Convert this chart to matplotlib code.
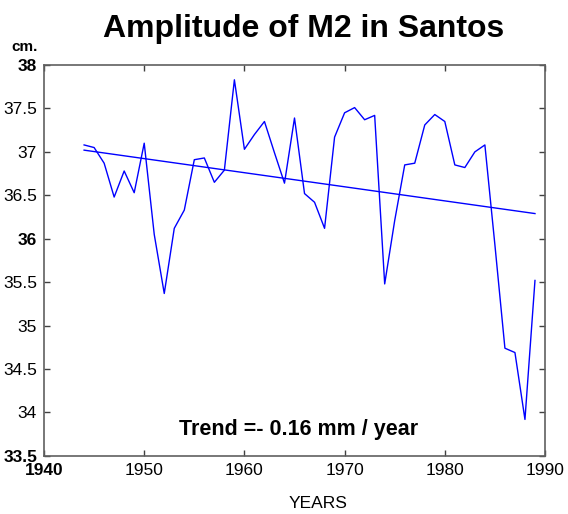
import matplotlib.pyplot as plt

years = list(range(1944, 1990))
amplitude = [37.08, 37.05, 36.87, 36.48, 36.78, 36.53, 37.10, 36.05, 35.37, 36.12,
             36.33, 36.91, 36.93, 36.65, 36.79, 37.83, 37.03, 37.20, 37.35, 36.99,
             36.64, 37.39, 36.52, 36.42, 36.12, 37.17, 37.45, 37.51, 37.37, 37.42,
             35.48, 36.21, 36.85, 36.87, 37.31, 37.43, 37.35, 36.85, 36.82, 37.00,
             37.08, 35.93, 34.74, 34.69, 33.92, 35.52]

trendYears = [1944, 1989]
trendValues = [37.02, 36.29]

xTicks = [1940, 1950, 1960, 1970, 1980, 1990]
yTicks = [33.5, 34, 34.5, 35, 35.5, 36, 36.5, 37, 37.5, 38]
yLabels = ["33.5", "34", "34.5", "35", "35.5", "36", "36.5", "37", "37.5", "38"]

plt.rcParams["font.family"] = ["Liberation Sans", "DejaVu Sans"]

fig = plt.figure(figsize=(5.68, 5.14), dpi=100)
ax = fig.add_axes([0.0775, 0.113, 0.882, 0.7605])

ax.plot(years, amplitude, color="#0000ff", linewidth=1.0)
ax.plot(trendYears, trendValues, color="#0000ff", linewidth=1.0)

ax.set_xlim(1940, 1990)
ax.set_ylim(33.5, 38)
ax.set_xticks(xTicks)
ax.set_yticks(yTicks)
ax.set_yticklabels(yLabels)
ax.tick_params(direction="in", length=4, width=1, top=True, right=True,
               labelsize=12.5, colors="#404040", labelcolor="black")
ax.tick_params(axis="x", pad=5)
ax.tick_params(axis="y", pad=5)

# the scanned original shows some tick labels heavier than others
for lab in ax.get_yticklabels():
    if lab.get_text() in ("38", "36", "33.5"):
        lab.set_fontweight("bold")
ax.get_xticklabels()[0].set_fontweight("bold")

for s in ax.spines.values():
    s.set_color("#606060")
    s.set_linewidth(1.2)

fig.text(0.535, 0.928, "Amplitude of M2 in Santos", ha="center", va="baseline",
         fontsize=23, fontweight="bold")
fig.text(0.02, 0.908, "cm.", ha="left", va="center", fontsize=11, fontweight="bold")
fig.text(0.56, 0.021, "YEARS", ha="center", va="center", fontsize=12.5)
fig.text(0.526, 0.1537, "Trend =- 0.16 mm / year", ha="center", va="baseline",
         fontsize=15.5, fontweight="bold")

fig.savefig("out.png", dpi=100)
